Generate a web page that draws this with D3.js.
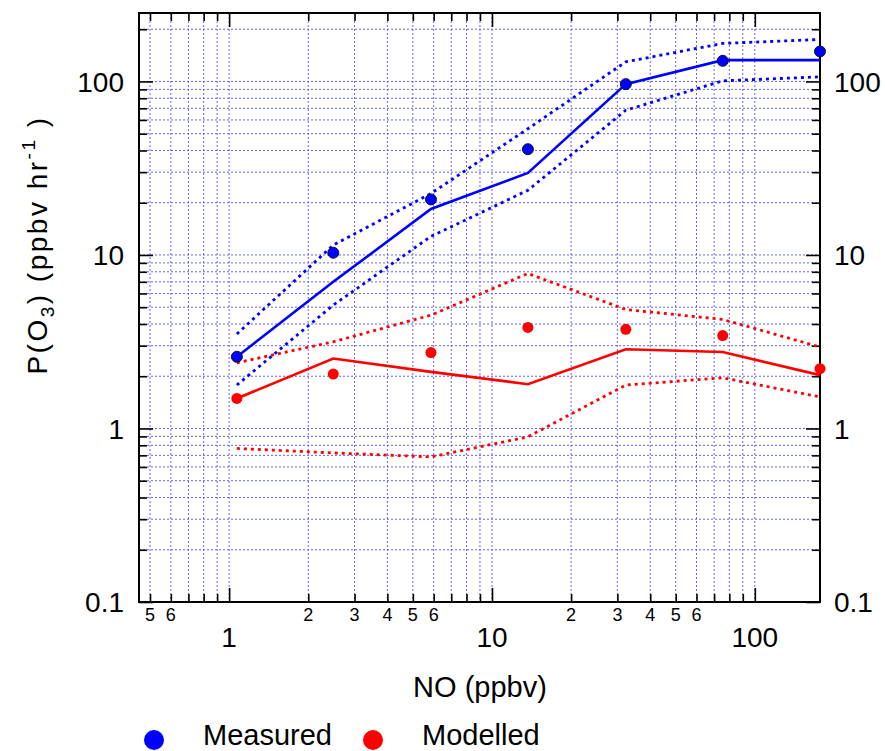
<!DOCTYPE html>
<html>
<head>
<meta charset="utf-8">
<script src="https://cdn.jsdelivr.net/npm/d3@7"></script>
<style>
  html, body { margin: 0; padding: 0; background: #fff; }
  svg { display: block; font-family: "Liberation Sans", Arial, Helvetica, sans-serif; }
</style>
</head>
<body>
<svg id="chart" width="885" height="751"></svg>
<script>
// ---------------- data ----------------
const noValues      = [1.07, 2.49, 5.86, 13.7, 32.3, 75.5, 177];
const measured      = [2.59, 10.3, 20.9, 40.7, 96.5, 131.5, 148.9];
const modelled      = [1.49, 2.06, 2.74, 3.82, 3.73, 3.43, 2.21];
const measuredMid   = [2.59, 7.0, 18.4, 29.7, 96.5, 132.7, 132.7];
const measuredHigh  = [3.50, 11.4, 22.6, 53.4, 129.7, 165.6, 174.6];
const measuredLow   = [1.78, 5.14, 12.8, 23.6, 68.3, 100.8, 106.3];
const modelledMid   = [1.49, 2.53, 2.12, 1.80, 2.86, 2.76, 2.03];
const modelledHigh  = [2.39, 3.16, 4.50, 7.82, 4.85, 4.25, 2.95];
const modelledLow   = [0.767, 0.723, 0.686, 0.895, 1.78, 1.96, 1.52];

const xDomain = [0.454, 177];
const yDomain = [0.1, 248];
const xMajorTicks = [1, 10, 100];
const xMinorTicks = [0.5, 0.6, 0.7, 0.8, 0.9, 2, 3, 4, 5, 6, 7, 8, 9, 20, 30, 40, 50, 60, 70, 80, 90];
const xMinorLabelled = [0.5, 0.6, 2, 3, 4, 5, 6, 20, 30, 40, 50, 60];
const xMinorLabelText = ["5", "6", "2", "3", "4", "5", "6", "2", "3", "4", "5", "6"];
const yMajorTicks = [0.1, 1, 10, 100];
const yMajorLabels = ["0.1", "1", "10", "100"];
const yMinorTicks = [0.2, 0.3, 0.4, 0.5, 0.6, 0.7, 0.8, 0.9, 2, 3, 4, 5, 6, 7, 8, 9, 20, 30, 40, 50, 60, 70, 80, 90, 200];
const legendLabels = ["Measured", "Modelled"];
const legendColors = ["#0000ff", "#ff0000"];

// ---------------- layout ----------------
const L = 139, R = 820, T = 13, B = 602;
const svg = d3.select("#chart");
const x = d3.scaleLog().domain(xDomain).range([L, R]);
const y = d3.scaleLog().domain(yDomain).range([B, T]);

const gridColor = "#6464ff";
const grid = svg.append("g");
[...xMinorTicks, ...xMajorTicks].forEach(v => {
  grid.append("line").attr("x1", x(v)).attr("x2", x(v)).attr("y1", T).attr("y2", B)
    .attr("stroke", gridColor).attr("stroke-width", 1).attr("stroke-dasharray", "2,2");
});
[...yMinorTicks, ...yMajorTicks.filter(v => v > 0.1)].forEach(v => {
  grid.append("line").attr("y1", y(v)).attr("y2", y(v)).attr("x1", L).attr("x2", R)
    .attr("stroke", gridColor).attr("stroke-width", 1).attr("stroke-dasharray", "2,2");
});

// ---------------- axes (inward ticks) ----------------
const majLen = 14, minLen = 8;
function axis(gen, transform) {
  const g = svg.append("g").attr("transform", transform).call(gen);
  g.select(".domain").remove();
  g.selectAll("line").attr("stroke", "#000").attr("stroke-width", 1.6);
  g.selectAll("text").remove();
  return g;
}
axis(d3.axisBottom(x).tickValues(xMajorTicks).tickSize(-majLen).tickFormat(""), `translate(0,${B})`);
axis(d3.axisBottom(x).tickValues(xMinorTicks).tickSize(-minLen).tickFormat(""), `translate(0,${B})`);
axis(d3.axisTop(x).tickValues(xMajorTicks).tickSize(-majLen).tickFormat(""), `translate(0,${T})`);
axis(d3.axisTop(x).tickValues(xMinorTicks).tickSize(-minLen).tickFormat(""), `translate(0,${T})`);
axis(d3.axisLeft(y).tickValues(yMajorTicks).tickSize(-majLen).tickFormat(""), `translate(${L},0)`);
axis(d3.axisLeft(y).tickValues(yMinorTicks).tickSize(-minLen).tickFormat(""), `translate(${L},0)`);
axis(d3.axisRight(y).tickValues(yMajorTicks).tickSize(-majLen).tickFormat(""), `translate(${R},0)`);
axis(d3.axisRight(y).tickValues(yMinorTicks).tickSize(-minLen).tickFormat(""), `translate(${R},0)`);

svg.append("rect").attr("x", L).attr("y", T).attr("width", R - L).attr("height", B - T)
  .attr("fill", "none").attr("stroke", "#000").attr("stroke-width", 2);

// tick labels
xMajorTicks.forEach(v => {
  svg.append("text").attr("x", x(v)).attr("y", 647).attr("text-anchor", "middle")
    .attr("font-size", 28).text(d3.format("~g")(v));
});
xMinorLabelled.forEach((v, i) => {
  svg.append("text").attr("x", x(v)).attr("y", 621).attr("text-anchor", "middle")
    .attr("font-size", 18).text(xMinorLabelText[i]);
});
yMajorTicks.forEach((v, i) => {
  svg.append("text").attr("x", 124).attr("y", y(v)).attr("dy", "0.36em").attr("text-anchor", "end")
    .attr("font-size", 28).text(yMajorLabels[i]);
  svg.append("text").attr("x", 834).attr("y", y(v)).attr("dy", "0.36em").attr("text-anchor", "start")
    .attr("font-size", 28).text(yMajorLabels[i]);
});

// axis titles
svg.append("text").attr("x", 480).attr("y", 697).attr("text-anchor", "middle")
  .attr("font-size", 29).text("NO (ppbv)");
const yt = svg.append("text").attr("transform", "translate(47,245) rotate(-90)")
  .attr("text-anchor", "middle").attr("font-size", 28).attr("letter-spacing", 2.5);
yt.append("tspan").text("P(O");
yt.append("tspan").attr("font-size", 19).attr("dy", 7).text("3");
yt.append("tspan").attr("dy", -7).text(") (ppbv hr");
yt.append("tspan").attr("font-size", 19).attr("dy", -12).text("-1");
yt.append("tspan").attr("dy", 12).text(" )");

// ---------------- series ----------------
const line = d3.line().x(d => x(d[0])).y(d => y(d[1]));
function drawLine(vals, color, dashed) {
  svg.append("path").datum(noValues.map((n, i) => [n, vals[i]]))
    .attr("d", line).attr("fill", "none").attr("stroke", color)
    .attr("stroke-width", dashed ? 2.8 : 2.6)
    .attr("stroke-dasharray", dashed ? "3,4" : null);
}
drawLine(modelledHigh, "#ff0000", true);
drawLine(modelledLow, "#ff0000", true);
drawLine(modelledMid, "#ff0000", false);
drawLine(measuredHigh, "#0000ff", true);
drawLine(measuredLow, "#0000ff", true);
drawLine(measuredMid, "#0000ff", false);

svg.append("g").selectAll("circle").data(modelled).join("circle")
  .attr("cx", (d, i) => x(noValues[i])).attr("cy", d => y(d)).attr("r", 5.5)
  .attr("fill", "#ff0000");
svg.append("g").selectAll("circle").data(measured).join("circle")
  .attr("cx", (d, i) => x(noValues[i])).attr("cy", d => y(d)).attr("r", 5.5)
  .attr("fill", "#0000ff").attr("stroke", "#111133").attr("stroke-width", 1);

// ---------------- legend ----------------
const legX = [154, 373], legTextX = [203, 422];
legendLabels.forEach((lab, i) => {
  svg.append("circle").attr("cx", legX[i]).attr("cy", 740).attr("r", 10).attr("fill", legendColors[i]);
  svg.append("text").attr("x", legTextX[i]).attr("y", 745).attr("font-size", 29).text(lab);
});
</script>
</body>
</html>
